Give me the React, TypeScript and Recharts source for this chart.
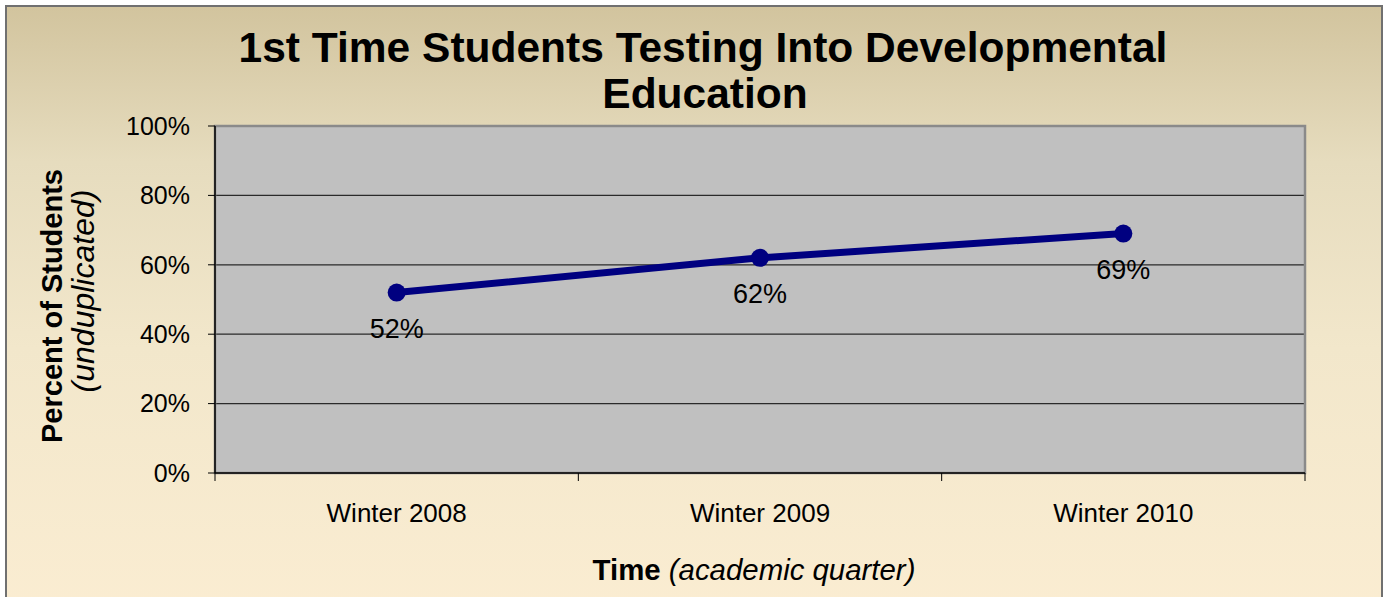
import React from 'react';
import { LineChart, Line, XAxis, YAxis, CartesianGrid, LabelList, ReferenceArea } from 'recharts';

const categories = ['Winter 2008', 'Winter 2009', 'Winter 2010'];
const percentValues = [52, 62, 69];
const yTicks = [0, 20, 40, 60, 80, 100];
const titleLines = ['1st Time Students Testing Into Developmental', 'Education'];
const yTitleMain = 'Percent of Students';
const yTitleSub = '(unduplicated)';
const xTitleMain = 'Time';
const xTitleSub = '(academic quarter)';

const data = categories.map((name, i) => ({ pos: i + 0.5, name, value: percentValues[i] }));
const labelTicks = categories.map((_, i) => i + 0.5);
const boundaryTicks = categories.map((_, i) => i).concat([categories.length]);

const FONT = "'Liberation Sans', Arial, sans-serif";
const W = 1383;
const H = 597;

export default function App() {
  return (
    <div style={{ position: 'absolute', left: 0, top: 0, width: W, height: H, overflow: 'hidden', fontFamily: FONT }}>
      <div
        style={{
          position: 'absolute',
          left: 5,
          top: 5,
          width: 1374,
          height: 620,
          border: '2px solid #707070',
          background: 'linear-gradient(to bottom, #D2C49E 0%, #E6DCBE 25%, #F2E7CB 55%, #FBEDD2 100%)',
        }}
      />
      <div style={{ position: 'absolute', left: 0, top: 0 }}>
        <LineChart width={W} height={H} data={data} margin={{ top: 126, right: 78, bottom: 83, left: 135 }}>
          <CartesianGrid vertical={false} fill="#C0C0C0" stroke="#2a2a2a" strokeWidth={1.2} />
          <ReferenceArea
            xAxisId="c"
            x1={0}
            x2={categories.length}
            y1={0}
            y2={100}
            fill="none"
            stroke="#8a8a8a"
            strokeWidth={2.5}
            ifOverflow="visible"
          />
          <XAxis
            xAxisId="b"
            type="number"
            dataKey="pos"
            domain={[0, categories.length]}
            ticks={boundaryTicks}
            tickFormatter={() => ''}
            tickSize={8}
            height={1}
            axisLine={{ stroke: '#000', strokeWidth: 1.5 }}
            tickLine={{ stroke: '#000', strokeWidth: 1 }}
          />
          <XAxis
            xAxisId="c"
            type="number"
            dataKey="pos"
            domain={[0, categories.length]}
            ticks={labelTicks}
            interval={0}
            tickFormatter={(v: number) => categories[Math.round(v - 0.5)]}
            tickLine={false}
            axisLine={false}
            tickSize={6}
            tickMargin={24}
            height={40}
            tick={{ fontSize: 26, fill: '#000', fontFamily: FONT }}
          />
          <YAxis
            type="number"
            domain={[0, 100]}
            ticks={yTicks}
            interval={0}
            tickFormatter={(v: number) => `${v}%`}
            width={80}
            tickSize={7}
            tickMargin={18}
            axisLine={{ stroke: '#000', strokeWidth: 1.5 }}
            tickLine={{ stroke: '#000', strokeWidth: 1 }}
            tick={{ fontSize: 25, fill: '#000', fontFamily: FONT }}
          />
          <Line
            xAxisId="c"
            type="linear"
            dataKey="value"
            stroke="#000080"
            strokeWidth={7}
            dot={{ r: 9, fill: '#000080', stroke: 'none' }}
            activeDot={false}
            isAnimationActive={false}
          >
            <LabelList
              dataKey="value"
              position="bottom"
              offset={26}
              formatter={(v: number) => `${v}%`}
              style={{ fontSize: 27, fill: '#000', fontFamily: FONT }}
            />
          </Line>
        </LineChart>
      </div>
      <svg
        width={W}
        height={H}
        style={{ position: 'absolute', left: 0, top: 0, pointerEvents: 'none' }}
        fontFamily={FONT}
      >
        <text x={703} y={62} textAnchor="middle" fontSize={42.5} fontWeight="bold" fill="#000">
          {titleLines[0]}
        </text>
        <text x={705} y={108} textAnchor="middle" fontSize={42.5} fontWeight="bold" fill="#000">
          {titleLines[1]}
        </text>
        <text
          x={62}
          y={306}
          transform="rotate(-90 62 306)"
          textAnchor="middle"
          fontSize={29}
          fontWeight="bold"
          fill="#000"
        >
          {yTitleMain}
        </text>
        <text
          x={94}
          y={291}
          transform="rotate(-90 94 291)"
          textAnchor="middle"
          fontSize={32}
          fontStyle="italic"
          fill="#000"
        >
          {yTitleSub}
        </text>
        <text x={754} y={580} textAnchor="middle" fontSize={29.4} fill="#000">
          <tspan fontWeight="bold">{xTitleMain}</tspan>
          <tspan fontStyle="italic">{' ' + xTitleSub}</tspan>
        </text>
      </svg>
    </div>
  );
}
